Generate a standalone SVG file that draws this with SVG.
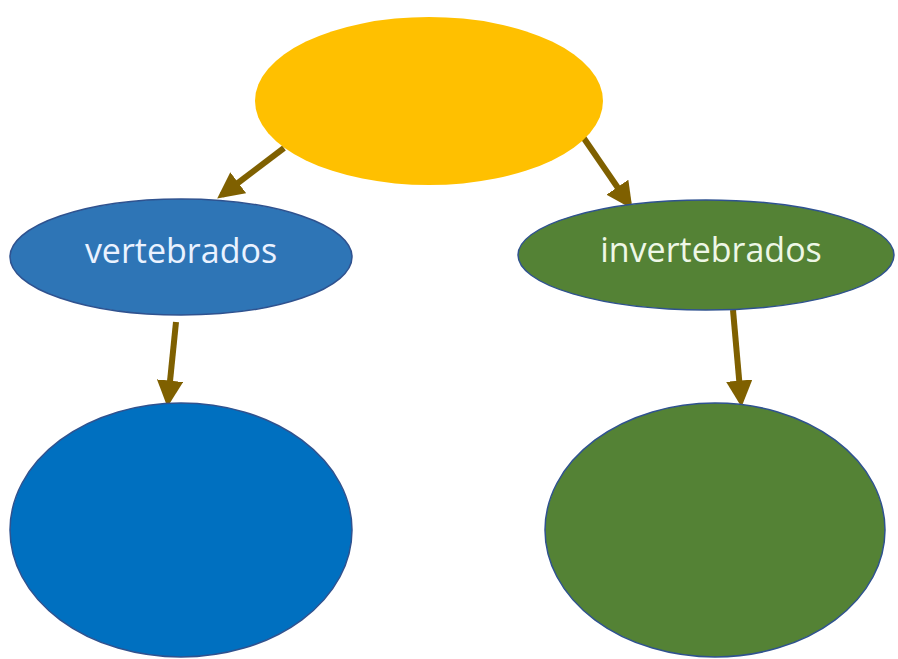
<svg xmlns="http://www.w3.org/2000/svg" width="898" height="659" viewBox="0 0 898 659">
<style>
.lbl{font-family:"Open Sans","Liberation Sans",sans-serif;font-size:34px;text-anchor:middle}
.conn{stroke:#7F6000;stroke-width:6;fill:none;marker-end:url(#ah)}
.edge{stroke:#2F528F;stroke-width:1.5}
</style>
<defs>
<marker id="ah" markerWidth="4.4" markerHeight="4.4" refX="3.4" refY="2.2" orient="auto" markerUnits="strokeWidth">
<path d="M0,0 L4.4,2.2 L0,4.4 Z" fill="#7F6000"/>
</marker>
</defs>
<rect width="898" height="659" fill="#FFFFFF"/>
<g id="connectors">
<line class="conn" x1="284" y1="148" x2="222" y2="195"/>
<line class="conn" x1="583" y1="137" x2="629" y2="204"/>
<line class="conn" x1="176" y1="322" x2="168" y2="401"/>
<line class="conn" x1="733" y1="310" x2="741" y2="401"/>
</g>
<g id="root">
<ellipse cx="429" cy="101" rx="174" ry="84" fill="#FFC000"/>
</g>
<g id="vertebrados">
<ellipse class="edge" cx="181" cy="257" rx="171" ry="58" fill="#2E75B6"/>
<text class="lbl" x="181" y="263" fill="#EAF2FF">vertebrados</text>
</g>
<g id="invertebrados">
<ellipse class="edge" cx="706" cy="255" rx="188" ry="55" fill="#548235"/>
<text class="lbl" x="711" y="262" fill="#EEF7E6">invertebrados</text>
</g>
<g id="vert-child">
<ellipse class="edge" cx="181" cy="530" rx="171" ry="127" fill="#0070C0"/>
</g>
<g id="invert-child">
<ellipse class="edge" cx="715" cy="530" rx="170" ry="127" fill="#548235"/>
</g>
</svg>
